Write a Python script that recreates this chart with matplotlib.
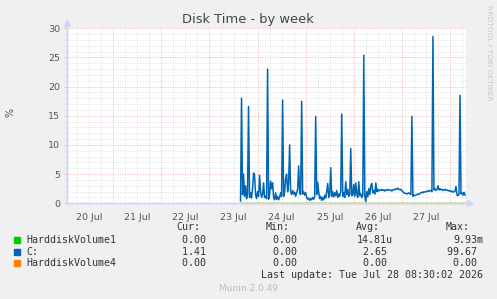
import numpy as np
import matplotlib
matplotlib.use("Agg")
import matplotlib.pyplot as plt
import matplotlib.dates as mdates
from matplotlib.lines import Line2D
from matplotlib.patches import Rectangle

# ---------------------------------------------------------
# Data (30 min samples of C:, read off the weekly graph)
# ---------------------------------------------------------
c_start = np.datetime64("2026-07-23T15:30")
c_values = [
    0.4, 18.0, 1.5, 5.0, 1.2, 3.0, 0.8, 1.5, 16.6, 1.0, 1.8, 0.9,
    2.5, 5.2, 4.8, 1.5, 0.8, 2.0, 1.2, 4.8, 2.0, 1.0, 1.5, 3.5,
    1.0, 1.2, 0.8, 23.0, 0.7, 1.5, 3.8, 2.5, 3.5, 1.0, 0.6, 1.8,
    0.7, 1.2, 0.6, 1.0, 1.8, 1.2, 17.7, 1.2, 2.0, 4.2, 5.0, 2.0,
    3.5, 10.0, 2.0, 1.5, 2.2, 1.6, 1.9, 1.2, 1.8, 2.5, 6.4, 1.8,
    1.5, 17.5, 1.6, 2.0, 1.4, 1.8, 1.0, 0.7, 0.9, 0.5, 0.8, 0.6,
    1.0, 0.7, 1.2, 14.9, 1.5, 3.6, 2.0, 0.8, 1.2, 0.5, 1.0, 0.6,
    1.4, 0.9, 2.0, 3.4, 1.0, 1.5, 6.1, 1.2, 2.0, 1.1, 1.8, 1.3,
    2.2, 1.0, 1.6, 1.2, 2.0, 15.3, 1.2, 1.8, 1.0, 3.7, 1.5, 2.4,
    1.2, 1.5, 9.4, 1.3, 1.4, 3.2, 1.2, 3.5, 1.5, 1.0, 3.7, 1.3,
    1.6, 1.0, 1.4, 25.4, 1.2, 0.3, 2.0, 1.1, 2.5, 1.5, 3.0, 3.4,
    1.8, 2.2, 1.6, 3.5, 2.0, 2.4, 2.1, 2.3, 2.2, 2.4, 2.2, 2.3,
    2.1, 2.3, 2.2, 2.4, 2.3, 2.2, 2.3, 2.1, 2.3, 2.4, 2.3, 2.5,
    2.4, 2.6, 2.4, 2.3, 2.4, 2.2, 2.0, 1.8, 1.7, 1.7, 1.6, 1.7,
    1.8, 1.6, 1.5, 14.9, 1.2, 1.4, 1.3, 1.4, 1.5, 1.6, 1.5, 1.7,
    1.8, 1.9, 1.8, 2.0, 1.9, 2.0, 2.1, 2.0, 2.2, 2.1, 2.2, 2.0,
    28.6, 2.3, 2.5, 2.2, 2.4, 3.0, 2.3, 2.5, 2.3, 2.4, 2.2, 2.3,
    2.4, 2.2, 2.3, 2.2, 2.1, 2.2, 2.0, 2.1, 1.9, 2.0, 2.1, 2.9,
    1.4, 1.3, 1.5, 18.5, 1.6, 1.8, 1.4, 1.9, 1.41,
]
c_times = c_start + np.arange(len(c_values)) * np.timedelta64(30, "m")

# the two other volumes stay at zero over the same span
flat_times = [c_times[0], c_times[-1]]
vol1_values = [0.0, 0.0]
vol4_values = [0.0, 0.0]

x_start = np.datetime64("2026-07-20T00:40")
x_end = np.datetime64("2026-07-28T08:00")

legend_names = ["HarddiskVolume1", "C:", "HarddiskVolume4"]
legend_colors = ["#00CC00", "#0066B3", "#FF8000"]
cur_vals = ["0.00 ", "1.41 ", "0.00 "]
min_vals = ["0.00 ", "0.00 ", "0.00 "]
avg_vals = ["14.81u", "2.65 ", "0.00 "]
max_vals = ["9.93m", "99.67 ", "0.00 "]

# ---------------------------------------------------------
# Figure
# ---------------------------------------------------------
W, H = 497, 299
BG = "#F0F0F0"
AXIS = "#CFD6F8"
MAJOR = "#EDB8B8"
MINOR = "#E2E2E2"
TXT = "#555555"


def fx(x):
    return x / W


def fy(y):
    return 1 - y / H


fig = plt.figure(figsize=(W / 100, H / 100), dpi=100, facecolor=BG)
ax = fig.add_axes([fx(66.5), fy(203.3), (466 - 66.5) / W, (203.3 - 28.3) / H])
ax.set_facecolor("white")

ax.plot(flat_times, vol1_values, color=legend_colors[0], lw=1.0, zorder=3)
ax.plot(c_times, c_values, color=legend_colors[1], lw=1.1, zorder=4)
ax.plot(flat_times, vol4_values, color=legend_colors[2], lw=1.0, alpha=0.6,
        zorder=5, clip_on=False)

ax.set_xlim(x_start, x_end)
ax.set_ylim(0, 30)

ax.xaxis.set_major_locator(mdates.DayLocator())
ax.xaxis.set_minor_locator(mdates.HourLocator(byhour=[6, 12, 18]))
ax.set_yticks(np.arange(0, 31, 5))
ax.set_yticks(np.arange(0, 31, 1), minor=True)
ax.set_xticklabels([])

ax.grid(True, which="major", color=MAJOR, lw=0.6, ls=(0, (1.5, 1.5)))
ax.grid(True, which="minor", color=MINOR, lw=0.6, ls=(0, (1.5, 1.5)))
ax.tick_params(which="both", length=2.5, width=0.6, labelsize=6.8,
               labelcolor=TXT, pad=2)
ax.tick_params(which="major", color=MAJOR)
ax.tick_params(which="minor", color=MINOR)
ax.tick_params(axis="x", which="major", length=0)
for lbl in ax.get_yticklabels():
    lbl.set_color(TXT)

# day labels sit at noon
for d in range(20, 28):
    ax.text(np.datetime64(f"2026-07-{d}T12:00"), -0.055, f"{d} Jul",
            transform=ax.get_xaxis_transform(), ha="center", va="top",
            fontsize=6.8, color=TXT)

for s in ["top", "right"]:
    ax.spines[s].set_visible(False)
for s in ["left", "bottom"]:
    ax.spines[s].set_color(AXIS)
    ax.spines[s].set_linewidth(1.0)

# axis arrows
fig.add_artist(Line2D([fx(66.5), fx(66.5)], [fy(203.3), fy(24)], color=AXIS, lw=1.0))
fig.add_artist(Line2D([fx(66.5), fx(469)], [fy(203.3), fy(203.3)], color=AXIS, lw=1.0))
fig.add_artist(Line2D([fx(66.5)], [fy(23)], marker="^", ms=5, color=AXIS, mec=AXIS))
fig.add_artist(Line2D([fx(470)], [fy(203.3)], marker=">", ms=5, color=AXIS, mec=AXIS))

# titles
fig.text(fx(248), fy(20), "Disk Time - by week", ha="center", va="center",
         fontsize=9.4, color="#444444")
fig.text(fx(10), fy(112), "%", ha="center", va="center", rotation=90,
         fontsize=7, color=TXT)
fig.text(fx(489), fy(5), "RRDTOOL / TOBI OETIKER", ha="center", va="top",
         rotation=270, fontsize=5.4, color="#C8C8C8")

# legend table
mono = dict(family="DejaVu Sans Mono", fontsize=7.2, color="#333333", va="center")
y_head = 227
for label, xr in [("Cur:", 200), ("Min:", 290), ("Avg:", 380), ("Max:", 470)]:
    fig.text(fx(xr), fy(y_head), label, ha="right", **mono)

rows_y = [240, 251.7, 263.3]
for i, yy in enumerate(rows_y):
    fig.add_artist(Rectangle((fx(14), fy(yy + 3)), 6 / W, 6 / H,
                             color=legend_colors[i], transform=fig.transFigure))
    fig.text(fx(26), fy(yy), legend_names[i], ha="left", **mono)
    fig.text(fx(212), fy(yy), cur_vals[i], ha="right", **mono)
    fig.text(fx(303), fy(yy), min_vals[i], ha="right", **mono)
    fig.text(fx(393), fy(yy), avg_vals[i], ha="right", **mono)
    fig.text(fx(483), fy(yy), max_vals[i], ha="right", **mono)

fig.text(fx(483), fy(275), "Last update: Tue Jul 28 08:30:02 2026", ha="right", **mono)
fig.text(fx(249), fy(288.5), "Munin 2.0.49", ha="center", va="center",
         fontsize=6.5, color="#BBBBBB")

fig.savefig("out.png", dpi=100, facecolor=BG)
